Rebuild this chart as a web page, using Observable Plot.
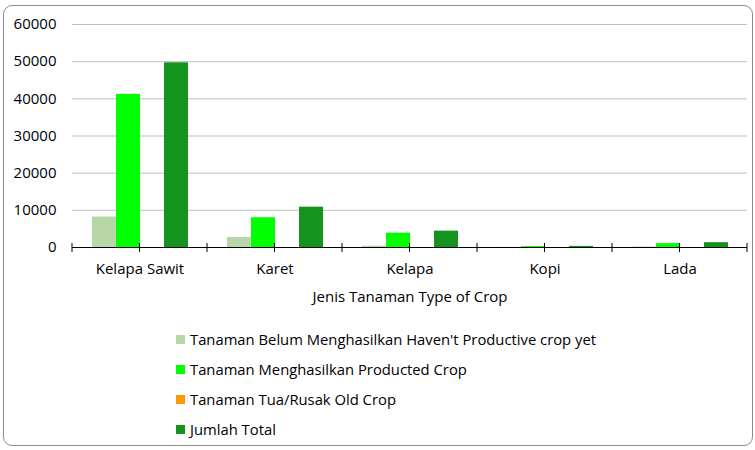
<!DOCTYPE html>
<html>
<head>
<meta charset="utf-8">
<script src="https://cdn.jsdelivr.net/npm/d3@7"></script>
<script src="https://cdn.jsdelivr.net/npm/@observablehq/plot@0.6"></script>
<style>
  html, body { margin: 0; padding: 0; background: #fff; }
  body { width: 755px; height: 450px; position: relative; overflow: hidden; font-family: "Open Sans", sans-serif; }
  #frame { position: absolute; left: 3px; top: 5px; width: 750px; height: 441px; border: 1px solid #8c8c8c; border-radius: 9px; box-sizing: border-box; }
  #chart { position: absolute; left: 0; top: 0; }
  #legend { position: absolute; left: 176px; top: 324px; font-size: 14.8px; color: #000; }
  .item { display: flex; align-items: center; height: 30px; }
  .sw { width: 9px; height: 9px; margin-right: 5px; }
</style>
</head>
<body>
<div id="frame"></div>
<div id="chart"></div>
<div id="legend"></div>
<script>
const crops = ["Kelapa Sawit", "Karet", "Kelapa", "Kopi", "Lada"];
const seriesNames = [
  "Tanaman Belum Menghasilkan Haven't Productive crop yet",
  "Tanaman Menghasilkan Producted Crop",
  "Tanaman Tua/Rusak Old Crop",
  "Jumlah Total"
];
const seriesColors = ["#b7d7a8", "#00ff00", "#ff9900", "#14941e"];
const belumMenghasilkan = [8200, 2700, 350, 30, 120];
const menghasilkan = [41200, 8000, 3850, 250, 1050];
const tuaRusak = [0, 0, 0, 0, 0];
const jumlahTotal = [49700, 10850, 4400, 300, 1300];
const yTicks = [0, 10000, 20000, 30000, 40000, 50000, 60000];
const xTitle = "Jenis Tanaman Type of Crop";

const seriesValues = [belumMenghasilkan, menghasilkan, tuaRusak, jumlahTotal];
const data = [];
crops.forEach((c, i) => seriesValues.forEach((vals, s) => data.push({crop: c, series: seriesNames[s], value: vals[i]})));

const plot = Plot.plot({
  width: 755,
  height: 310,
  marginLeft: 72,
  marginRight: 8,
  marginTop: 24,
  marginBottom: 63,
  style: {fontFamily: "Open Sans, sans-serif", fontSize: "15px", color: "#000", background: "transparent"},
  fx: {domain: crops, padding: 0},
  x: {domain: seriesNames, paddingInner: 0, paddingOuter: 0.755, axis: null},
  y: {domain: [0, 60000], ticks: yTicks, axis: null},
  color: {domain: seriesNames, range: seriesColors},
  marks: [
    Plot.ruleY(yTicks.filter(v => v > 0), {stroke: "#bfbfbf", strokeWidth: 1}),
    Plot.barY(data, {fx: "crop", x: "series", y: "value", fill: "series"}),
    Plot.ruleY([0], {stroke: "#000", strokeWidth: 1}),
    Plot.axisY({ticks: yTicks, tickSize: 0, tickPadding: 16, tickFormat: d => String(d), fontSize: 15, facetAnchor: "left", label: null}),
    Plot.axisFx({anchor: "bottom", tickSize: 0, tickPadding: 16, fontSize: 15, label: xTitle, labelAnchor: "center", labelOffset: 54})
  ]
});
document.getElementById("chart").appendChild(plot);

// category tick marks at band edges and centers, using the fx scale
const fx = plot.scale("fx");
const y = plot.scale("y");
const y0 = y.apply(0);
const positions = [];
crops.forEach(c => {
  const a = fx.apply(c);
  positions.push(a, a + fx.bandwidth / 2);
});
positions.push(fx.apply(crops[crops.length - 1]) + fx.bandwidth);
d3.select(plot).append("g").attr("stroke", "#000").selectAll("line").data(positions).join("line")
  .attr("x1", d => d).attr("x2", d => d).attr("y1", y0 - 4).attr("y2", y0 + 5);

const legend = d3.select("#legend");
seriesNames.forEach((s, i) => {
  const it = legend.append("div").attr("class", "item");
  it.append("div").attr("class", "sw").style("background", seriesColors[i]);
  it.append("span").text(s);
});
</script>
</body>
</html>
